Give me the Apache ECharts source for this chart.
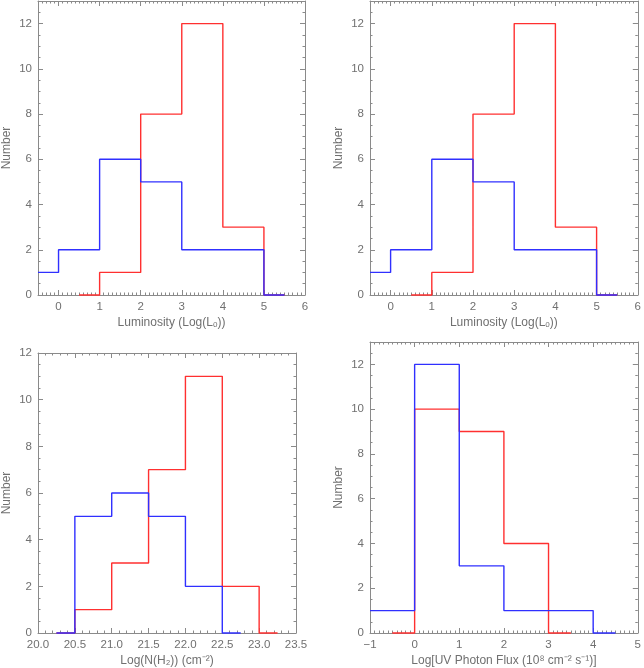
<!DOCTYPE html>
<html>
<head>
<meta charset="utf-8">
<script src="https://cdn.jsdelivr.net/npm/echarts@6/dist/echarts.min.js"></script>
<style>html,body{margin:0;padding:0;background:#fff}#c{width:644px;height:668px}</style>
</head>
<body>
<div id="c"></div>
<script>
// ---- Data ----
// Panel A & B: Luminosity histograms (identical panels)
const lumBlueEdges = [-0.5, 0, 1, 2, 3, 4, 5, 5.5];
const lumBlueCounts = [1, 2, 6, 5, 2, 2, 0];
const lumRedEdges = [0.5, 1, 2, 3, 4, 5, 5.5];
const lumRedCounts = [0, 1, 8, 12, 3, 0];
// Panel C: column density
const nh2BlueEdges = [20.25, 20.5, 21.0, 21.5, 22.0, 22.5, 22.75];
const nh2BlueCounts = [0, 5, 6, 5, 2, 0];
const nh2RedEdges = [20.25, 20.5, 21.0, 21.5, 22.0, 22.5, 23.0, 23.25];
const nh2RedCounts = [0, 1, 3, 7, 11, 2, 0];
// Panel D: UV photon flux
const uvBlueEdges = [-1, 0, 1, 2, 3, 4, 4.5];
const uvBlueCounts = [1, 12, 3, 1, 1, 0];
const uvRedEdges = [-0.5, 0, 1, 2, 3, 3.5];
const uvRedCounts = [0, 10, 9, 4, 0];
// Tick labels
const lumTicks = [0, 1, 2, 3, 4, 5, 6];
const nh2Ticks = [20.0, 20.5, 21.0, 21.5, 22.0, 22.5, 23.0, 23.5];
const uvTicks = [-1, 0, 1, 2, 3, 4, 5];
const yTicks = [0, 2, 4, 6, 8, 10, 12];
const yNameText = 'Number';
const lumName = 'Luminosity (Log(Lₒ))';
const nh2Name = 'Log(N(H₂)) (cm⁻²)';
const uvName = 'Log[UV Photon Flux (10⁸ cm⁻² s⁻¹)]';

// ---- Helpers ----
function steps(edges, counts) {
  const pts = [];
  for (let i = 0; i < counts.length; i++) {
    pts.push([edges[i], counts[i]]);
    pts.push([edges[i + 1], counts[i]]);
  }
  return pts;
}
function minorVals(a, b, step) {
  const out = [];
  const n = Math.round((b - a) / step);
  for (let i = 0; i <= n; i++) out.push(Math.round((a + i * step) * 1000) / 1000);
  return out;
}
const AX = '#8a8a8a';
const TXT = '#707070';
const FONT = 'Liberation Sans';
const intFmt = v => String(v).replace('-', '\u2212');

const panels = [
  { grid: { left: 34, top: 1, width: 271, height: 294 }, xmin: -0.5, xmax: 6, ymax: 13, xt: lumTicks, xfmt: intFmt, xname: lumName,
    series: [[lumRedEdges, lumRedCounts, '#ff3030'], [lumBlueEdges, lumBlueCounts, '#3030ff']] },
  { grid: { left: 370, top: 1, width: 268, height: 294 }, xmin: -0.5, xmax: 6, ymax: 13, xt: lumTicks, xfmt: intFmt, xname: lumName,
    series: [[lumRedEdges, lumRedCounts, '#ff3030'], [lumBlueEdges, lumBlueCounts, '#3030ff']] },
  { grid: { left: 32, top: 353, width: 264, height: 284 }, xmin: 20, xmax: 23.5, ymax: 12, xt: nh2Ticks, xfmt: v => Number(v).toFixed(1), xname: nh2Name,
    series: [[nh2RedEdges, nh2RedCounts, '#ff3030'], [nh2BlueEdges, nh2BlueCounts, '#3030ff']] },
  { grid: { left: 370, top: 342, width: 268, height: 294 }, xmin: -1, xmax: 5, ymax: 13, xt: uvTicks, xfmt: intFmt, xname: uvName,
    series: [[uvRedEdges, uvRedCounts, '#ff3030'], [uvBlueEdges, uvBlueCounts, '#3030ff']] }
];

const grids = [], xAxes = [], yAxes = [], series = [];
panels.forEach((p, gi) => {
  grids.push(p.grid);
  const xMinor = minorVals(p.xmin, p.xmax, 0.1);
  const yMinor = minorVals(0, p.ymax, 0.5);
  const baseX = { type: 'value', gridIndex: gi, min: p.xmin, max: p.xmax, splitLine: { show: false } };
  const baseY = { type: 'value', gridIndex: gi, min: 0, max: p.ymax, splitLine: { show: false } };
  const xi = xAxes.length, yi = yAxes.length;
  xAxes.push(Object.assign({}, baseX, {
    position: 'bottom',
    axisLine: { show: true, onZero: false, lineStyle: { color: AX, width: 1 } },
    axisTick: { show: true, inside: true, length: 5, customValues: p.xt, lineStyle: { color: AX } },
    axisLabel: { show: true, customValues: p.xt, formatter: p.xfmt, color: TXT, fontSize: 11.5, fontFamily: FONT, margin: 6 },
    name: p.xname, nameLocation: 'middle', nameGap: 22,
    nameTextStyle: { color: TXT, fontSize: 12, fontFamily: FONT }
  }));
  xAxes.push(Object.assign({}, baseX, {
    position: 'top',
    axisLine: { show: true, onZero: false, lineStyle: { color: AX, width: 1 } },
    axisTick: { show: true, inside: true, length: 5, customValues: p.xt, lineStyle: { color: AX } },
    axisLabel: { show: false }
  }));
  ['bottom', 'top'].forEach(pos => xAxes.push(Object.assign({}, baseX, {
    position: pos,
    axisLine: { show: false, onZero: false },
    axisTick: { show: true, inside: true, length: 2.5, customValues: xMinor, lineStyle: { color: AX } },
    axisLabel: { show: false }
  })));
  yAxes.push(Object.assign({}, baseY, {
    position: 'left',
    axisLine: { show: true, onZero: false, lineStyle: { color: AX, width: 1 } },
    axisTick: { show: true, inside: true, length: 5, customValues: yTicks, lineStyle: { color: AX } },
    axisLabel: { show: true, customValues: yTicks, color: TXT, fontSize: 11.5, fontFamily: FONT, margin: 6 },
    name: yNameText, nameLocation: 'middle', nameGap: 25, nameRotate: 90,
    nameTextStyle: { color: TXT, fontSize: 12, fontFamily: FONT }
  }));
  yAxes.push(Object.assign({}, baseY, {
    position: 'right',
    axisLine: { show: true, onZero: false, lineStyle: { color: AX, width: 1 } },
    axisTick: { show: true, inside: true, length: 5, customValues: yTicks, lineStyle: { color: AX } },
    axisLabel: { show: false }
  }));
  ['left', 'right'].forEach(pos => yAxes.push(Object.assign({}, baseY, {
    position: pos,
    axisLine: { show: false, onZero: false },
    axisTick: { show: true, inside: true, length: 2.5, customValues: yMinor, lineStyle: { color: AX } },
    axisLabel: { show: false }
  })));
  p.series.forEach(([edges, counts, color]) => {
    series.push({
      type: 'line', xAxisIndex: xi, yAxisIndex: yi,
      data: steps(edges, counts), showSymbol: false, symbol: 'none',
      lineStyle: { color: color, width: 1.4 }, animation: false, silent: true, clip: false
    });
  });
});

const chart = echarts.init(document.getElementById('c'), null, { renderer: 'canvas' });
chart.setOption({ animation: false, backgroundColor: '#ffffff', grid: grids, xAxis: xAxes, yAxis: yAxes, series: series });
</script>
</body>
</html>
